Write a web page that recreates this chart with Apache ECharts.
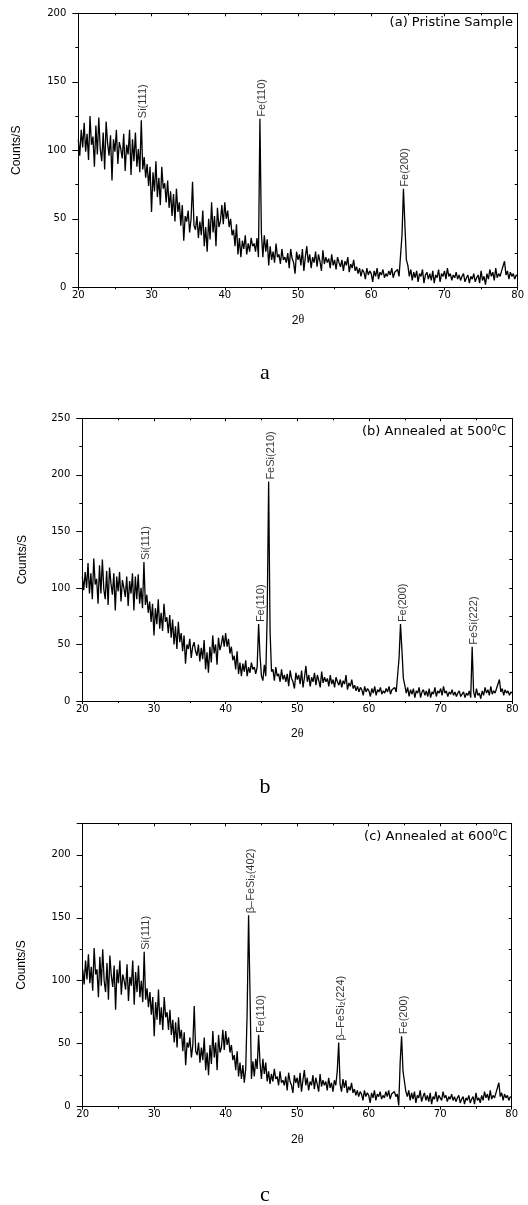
<!DOCTYPE html>
<html><head><meta charset="utf-8">
<script src="https://cdn.jsdelivr.net/npm/echarts@6/dist/echarts.min.js"></script>
<style>html,body{margin:0;padding:0;background:#fff}#c{width:528px;height:1205px}</style>
</head><body><div id="c"></div>
<script>
// ---------- DATA ----------
const X_START = 20, X_STEP = 0.2;      // 2θ grid: 20.0, 20.2, ... 80.0
const xMin = 20, xMax = 80, xInterval = 10;

const countsA = [
108,96,115,102,120,99,112,93,125,104,
110,88,118,97,124,101,92,113,86,121,
105,96,111,78,108,99,115,90,106,101,
94,112,85,104,97,115,82,108,92,113,
88,101,84,122,86,95,80,90,74,88,
55,84,70,92,66,80,60,88,72,76,
62,78,58,70,52,68,48,72,55,62,
45,60,34,52,48,56,40,50,77,45,
42,52,36,48,38,56,30,44,26,50,
35,62,40,52,30,58,44,48,60,46,
62,50,56,44,50,38,42,30,46,24,
36,22,34,28,38,24,32,26,36,30,
32,26,36,22,123,40,22,38,26,35,
16,30,20,26,18,32,22,24,17,28,
20,22,18,25,14,28,21,18,10,26,
20,24,16,28,12,22,30,18,24,14,
22,18,26,15,24,19,12,27,17,22,
18,21,14,24,16,20,13,22,18,15,
20,12,19,16,22,11,17,14,20,12,
15,10,14,8,13,11,6,14,9,12,
10,4,12,8,14,6,11,9,13,7,
10,8,12,9,14,7,11,10,13,8,
7,38,72,45,20,16,8,13,5,11,
7,12,4,10,8,13,3,9,11,6,
10,5,12,3,9,7,13,4,10,8,
12,6,14,8,10,5,9,7,11,6,
9,5,8,10,4,7,9,3,8,6,
10,4,7,9,3,12,5,8,2,10,
6,13,8,11,5,14,7,10,8,12,
13,19,9,12,6,11,8,10,6,9,
8];

const countsB = [
110,98,114,100,122,95,113,90,126,103,
108,86,120,95,125,99,90,115,85,118,
104,94,113,80,110,97,114,88,107,100,
92,110,84,106,95,113,80,110,90,112,
86,100,82,123,85,94,78,88,70,86,
58,82,68,90,64,78,62,86,70,74,
60,76,56,72,50,66,46,70,52,60,
44,58,33,50,46,55,38,48,52,44,
40,50,35,47,37,54,28,43,25,48,
34,58,42,50,32,56,45,50,58,48,
60,48,55,42,48,36,40,28,44,24,
34,22,33,26,36,22,30,25,34,28,
30,24,30,68,40,22,18,32,22,76,
194,62,26,28,18,30,22,24,17,28,
19,23,17,24,13,27,20,17,11,25,
19,23,15,27,12,21,31,17,23,13,
21,17,25,14,23,18,12,26,16,21,
17,20,13,23,15,19,12,21,17,14,
19,12,18,15,23,10,16,13,19,11,
14,9,13,8,12,10,5,13,8,11,
9,4,11,7,13,5,10,8,12,6,
9,7,11,8,13,6,10,9,12,8,
9,38,68,45,20,14,7,12,4,10,
6,11,3,9,7,12,3,8,10,5,
9,4,11,3,8,6,12,4,9,7,
11,5,13,7,9,4,8,6,10,5,
8,4,7,9,4,6,8,3,7,5,
9,3,48,8,3,11,5,7,2,9,
5,12,7,10,5,13,6,9,7,11,
12,19,8,11,5,10,7,9,5,8,
7];

const countsC = [
109,97,116,101,121,98,111,92,126,105,
109,87,119,96,125,100,91,114,85,120,
104,95,112,77,109,98,116,89,105,100,
93,113,84,103,96,116,81,107,91,112,
87,100,83,123,85,94,79,91,73,87,
56,83,69,93,65,79,61,87,71,75,
61,77,57,69,51,67,47,71,54,61,
44,59,33,51,47,55,39,49,80,44,
41,51,35,47,37,55,29,43,25,49,
34,60,39,51,29,57,43,47,61,45,
60,49,55,43,49,37,41,29,44,24,
35,22,33,19,30,75,152,90,22,36,
24,38,30,57,35,22,38,26,35,20,
28,18,26,20,30,22,24,17,28,19,
21,17,24,13,27,20,17,11,25,19,
23,15,27,12,21,29,17,23,13,20,
17,25,14,23,18,12,26,16,21,17,
20,13,23,15,19,12,21,17,28,51,
18,12,22,15,21,11,16,13,19,11,
14,9,13,8,12,10,5,13,8,11,
9,3,11,7,13,5,10,8,12,6,
9,7,12,8,13,6,10,9,12,8,
10,1,35,56,28,20,12,8,13,5,
11,6,12,3,9,7,13,4,8,11,
5,9,4,11,2,8,6,12,4,9,
10,5,12,7,9,4,8,6,10,5,
8,4,7,9,3,6,8,2,7,5,
9,3,6,8,2,11,5,7,3,9,
5,12,7,10,5,13,6,9,7,11,
12,19,8,11,5,10,7,9,5,8,
7];

const yMaxes = [200, 250, 225];
const yInterval = 50;

const peakNamesA = ['Si(111)', 'Fe(110)', 'Fe(200)'];
const peakPosA   = [28.6, 44.8, 64.4];
const peakNamesB = ['Si(111)', 'Fe(110)', 'FeSi(210)', 'Fe(200)', 'FeSi(222)'];
const peakPosB   = [28.6, 44.6, 46.0, 64.4, 74.4];
const peakNamesC = ['Si(111)', 'β–FeSi{s|2}(402)', 'Fe(110)', 'β–FeSi{s|2}(224)', 'Fe(200)'];
const peakPosC   = [28.6, 43.2, 44.6, 55.8, 64.6];

const notes = ['(a) Pristine Sample', '(b) Annealed at 500{sup|0}C', '(c) Annealed at 600{sup|0}C'];
const captions = ['a', 'b', 'c'];
const xName = '2{t|θ}';
const yName = 'Counts/S';

// ---------- LAYOUT ----------
const grids = [
  {left: 78.3, top: 13.3, width: 439.4, height: 274},
  {left: 82.3, top: 418.3, width: 430, height: 282.7},
  {left: 82.7, top: 823.3, width: 429, height: 283.4}
];
const yNameGaps = [56, 54, 55];
const noteBoxes = [{right: 15, top: 16}, {right: 22, top: 425}, {right: 21, top: 830}];
const captionPos = [[265, 373], [265, 787], [265, 1195]];

const allCounts = [countsA, countsB, countsC];
const allNames = [peakNamesA, peakNamesB, peakNamesC];
const allPos = [peakPosA, peakPosB, peakPosC];

const TICK_FONT = 'DejaVu Sans';
const xAxes = [], yAxes = [], series = [], titles = [], graphics = [];

grids.forEach((g, i) => {
  ['bottom', 'top'].forEach(pos => {
    const main = pos === 'bottom';
    xAxes.push({
      type: 'value', gridIndex: i, position: pos, min: xMin, max: xMax, interval: xInterval,
      axisLine: {show: true, onZero: false, lineStyle: {color: '#000', width: 1}},
      axisTick: {show: true, inside: !main, length: 3, lineStyle: {color: '#000', width: 1}},
      minorTick: {show: true, splitNumber: 2, length: 2, lineStyle: {color: '#000', width: 1}},
      splitLine: {show: false},
      axisLabel: {show: main, margin: 3, color: '#000', fontSize: 10, fontFamily: TICK_FONT},
      name: main ? xName : '', nameLocation: 'middle', nameGap: 27,
      nameTextStyle: {color: '#000', fontSize: 12, fontFamily: 'Liberation Sans',
        rich: {t: {fontSize: 12, fontFamily: 'Liberation Serif', color: '#000'}}}
    });
  });
  ['left', 'right'].forEach(pos => {
    const main = pos === 'left';
    yAxes.push({
      type: 'value', gridIndex: i, position: pos, min: 0, max: yMaxes[i], interval: yInterval,
      axisLine: {show: true, onZero: false, lineStyle: {color: '#000', width: 1}},
      axisTick: {show: true, inside: !main, length: main ? 6 : 3, lineStyle: {color: '#000', width: 1}},
      minorTick: {show: true, splitNumber: 2, length: 3, lineStyle: {color: '#000', width: 1}},
      splitLine: {show: false},
      axisLabel: {show: main, margin: 12, color: '#000', fontSize: 10, fontFamily: TICK_FONT,
        showMaxLabel: yMaxes[i] % yInterval === 0},
      name: main ? yName : '', nameLocation: 'middle', nameGap: yNameGaps[i],
      nameTextStyle: {color: '#000', fontSize: 12, fontFamily: 'Liberation Sans'}
    });
  });
  const counts = allCounts[i];
  series.push({
    type: 'line', xAxisIndex: 2 * i, yAxisIndex: 2 * i, showSymbol: false, silent: true,
    animation: false, lineStyle: {color: '#000', width: 1.3}, itemStyle: {color: '#000'},
    data: counts.map((v, k) => [X_START + X_STEP * k, v])
  });
  series.push({
    type: 'scatter', xAxisIndex: 2 * i, yAxisIndex: 2 * i, symbolSize: 0, silent: true, animation: false,
    data: allPos[i].map((x, k) => ({
      name: allNames[i][k],
      value: [x, counts[Math.round((x - X_START) / X_STEP)]]
    })),
    label: {
      show: true, position: 'top', distance: 2, rotate: 90, align: 'left', verticalAlign: 'middle',
      offset: [0, 2], formatter: p => p.name, color: '#000', fontSize: 11, fontFamily: 'Liberation Sans',
      rich: {s: {fontSize: 7, verticalAlign: 'bottom', color: '#000', fontFamily: 'Liberation Sans'}}
    }
  });
  titles.push({
    text: notes[i], right: noteBoxes[i].right, top: noteBoxes[i].top, padding: 0,
    textStyle: {color: '#000', fontSize: 13, fontWeight: 'normal', fontFamily: TICK_FONT,
      rich: {sup: {fontSize: 8, verticalAlign: 'top', color: '#000', fontFamily: TICK_FONT}}}
  });
  graphics.push({
    type: 'text', x: captionPos[i][0], y: captionPos[i][1],
    style: {text: captions[i], font: '22px "Liberation Serif"', fill: '#000', align: 'center', verticalAlign: 'middle'}
  });
});

const chart = echarts.init(document.getElementById('c'), null, {renderer: 'canvas'});
chart.setOption({
  animation: false,
  backgroundColor: '#fff',
  title: titles,
  grid: grids,
  xAxis: xAxes,
  yAxis: yAxes,
  series: series,
  graphic: graphics
});
</script>
</body></html>
